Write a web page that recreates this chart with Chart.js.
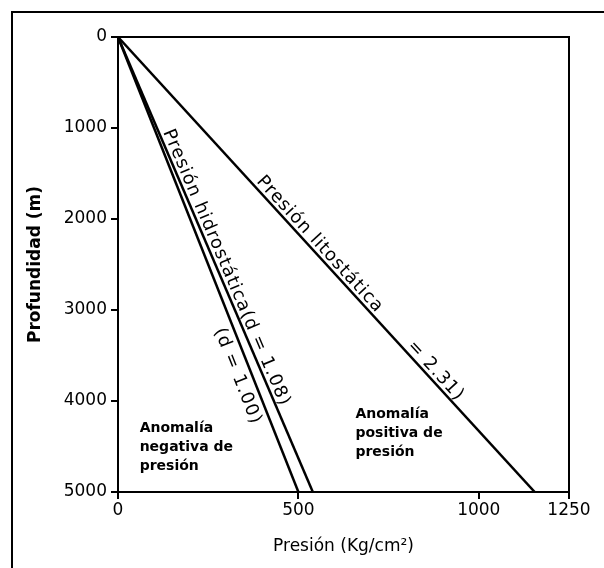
<!DOCTYPE html>
<html lang="es">
    <head>
        <meta charset="UTF-8">
        <meta name="viewport" content="width=device-width, initial-scale=1.0">
        <title>Presión vs profundidad</title>
        <script src="https://cdn.jsdelivr.net/npm/chart.js"></script>
        <style>
            body {
                margin: 0;
                background-color: #ffffff;
                overflow: hidden;
            }

            .frame {
                position: absolute;
                left: 11px;
                top: 11px;
                width: 700px;
                height: 700px;
                border: 2px solid #000000;
            }

            #chart {
                position: absolute;
                left: 0;
                top: 0;
            }
        </style>
    </head>
    <body>
        <div class="frame"></div>
        <canvas id="chart" width="604" height="568"></canvas>

        <script>
            // profundidad (m) y presión (Kg/cm2) en los extremos de cada recta
            const depths = [0, 5000];
            const hydroFresh = [0, 500];    // d = 1.00
            const hydroSalt = [0, 540];     // d = 1.08
            const litho = [0, 1155];        // d = 2.31

            const xTicks = [0, 500, 1000, 1250];
            const yTicks = [0, 1000, 2000, 3000, 4000, 5000];

            // textos sobre las rectas
            const lineLabels = ['Presión hidrostática(d = 1.08)', '(d = 1.00)', 'Presión litostática', '= 2.31)'];
            const lineLabelSeries = [1, 0, 2, 2];
            const lineLabelDepth = [1060, 3150, 1620, 3430];
            const lineLabelSide = ['above', 'below', 'above', 'above'];

            // notas de anomalías
            const noteLines = [
                ['Anomalía', 'negativa de', 'presión'],
                ['Anomalía', 'positiva de', 'presión']
            ];
            const notePressure = [60, 658];
            const noteDepth = [4300, 4150];

            const FONT = "'DejaVu Sans', sans-serif";

            function toPoints(values) {
                return values.map((v, i) => ({ x: v, y: depths[i] }));
            }

            const frameBox = {
                id: 'frameBox',
                beforeDatasetsDraw(chart) {
                    const { ctx, chartArea } = chart;
                    ctx.save();
                    ctx.strokeStyle = '#000';
                    ctx.lineWidth = 2;
                    ctx.strokeRect(chartArea.left, chartArea.top, chartArea.right - chartArea.left, chartArea.bottom - chartArea.top);
                    ctx.restore();
                }
            };

            const annotations = {
                id: 'annotations',
                afterDatasetsDraw(chart) {
                    const { ctx } = chart;
                    const xs = chart.scales.x;
                    const ys = chart.scales.y;

                    ctx.save();
                    ctx.fillStyle = '#000';
                    ctx.font = '18px ' + FONT;
                    ctx.letterSpacing = '1px';

                    lineLabels.forEach((text, i) => {
                        const pts = chart.data.datasets[lineLabelSeries[i]].data;
                        const x0 = xs.getPixelForValue(pts[0].x);
                        const y0 = ys.getPixelForValue(pts[0].y);
                        const x1 = xs.getPixelForValue(pts[1].x);
                        const y1 = ys.getPixelForValue(pts[1].y);
                        const angle = Math.atan2(y1 - y0, x1 - x0);
                        const t = (lineLabelDepth[i] - pts[0].y) / (pts[1].y - pts[0].y);
                        const px = x0 + (x1 - x0) * t;
                        const py = y0 + (y1 - y0) * t;

                        ctx.save();
                        ctx.translate(px, py);
                        ctx.rotate(angle);
                        ctx.textAlign = 'left';
                        if (lineLabelSide[i] === 'above') {
                            ctx.textBaseline = 'alphabetic';
                            ctx.fillText(text, 0, -4);
                        } else {
                            ctx.textBaseline = 'top';
                            ctx.fillText(text, 0, 5);
                        }
                        ctx.restore();
                    });

                    ctx.letterSpacing = '0px';
                    ctx.font = 'bold 14px ' + FONT;
                    ctx.textAlign = 'left';
                    ctx.textBaseline = 'middle';
                    noteLines.forEach((lines, i) => {
                        const px = xs.getPixelForValue(notePressure[i]);
                        const py = ys.getPixelForValue(noteDepth[i]);
                        lines.forEach((line, j) => {
                            ctx.fillText(line, px, py + j * 19);
                        });
                    });
                    ctx.restore();
                }
            };

            const lineStyle = {
                borderColor: '#000',
                borderWidth: 2.5,
                pointRadius: 0,
                fill: false
            };

            new Chart(document.getElementById('chart'), {
                type: 'line',
                data: {
                    datasets: [
                        { label: 'd = 1.00', data: toPoints(hydroFresh), ...lineStyle },
                        { label: 'd = 1.08', data: toPoints(hydroSalt), ...lineStyle },
                        { label: 'd = 2.31', data: toPoints(litho), ...lineStyle }
                    ]
                },
                options: {
                    responsive: false,
                    animation: false,
                    layout: {
                        padding: { left: 0, top: 37, right: 35, bottom: 0 }
                    },
                    plugins: {
                        legend: { display: false },
                        tooltip: { enabled: false }
                    },
                    scales: {
                        x: {
                            type: 'linear',
                            min: 0,
                            max: 1250,
                            afterBuildTicks: scale => {
                                scale.ticks = xTicks.map(v => ({ value: v }));
                            },
                            afterFit: scale => {
                                scale.height = 76;
                            },
                            ticks: {
                                color: '#000',
                                font: { family: FONT, size: 17 },
                                padding: 1,
                                maxRotation: 0,
                                autoSkip: false,
                                callback: v => String(v)
                            },
                            grid: {
                                drawOnChartArea: false,
                                color: '#000',
                                lineWidth: 2,
                                tickLength: 7
                            },
                            border: { color: '#000', width: 2 },
                            title: {
                                display: true,
                                text: 'Presión (Kg/cm²)',
                                color: '#000',
                                font: { family: FONT, size: 17 },
                                padding: { top: 0, bottom: 11 }
                            }
                        },
                        y: {
                            type: 'linear',
                            reverse: true,
                            min: 0,
                            max: 5000,
                            afterBuildTicks: scale => {
                                scale.ticks = yTicks.map(v => ({ value: v }));
                            },
                            afterFit: scale => {
                                scale.width = 118;
                            },
                            ticks: {
                                color: '#000',
                                font: { family: FONT, size: 17 },
                                padding: 4,
                                callback: v => String(v)
                            },
                            grid: {
                                drawOnChartArea: false,
                                color: '#000',
                                lineWidth: 2,
                                tickLength: 7
                            },
                            border: { color: '#000', width: 2 },
                            title: {
                                display: true,
                                text: 'Profundidad (m)',
                                color: '#000',
                                font: { family: FONT, size: 17, weight: 'bold' },
                                padding: { top: 25, bottom: 0 }
                            }
                        }
                    }
                },
                plugins: [frameBox, annotations]
            });
        </script>
    </body>
</html>
